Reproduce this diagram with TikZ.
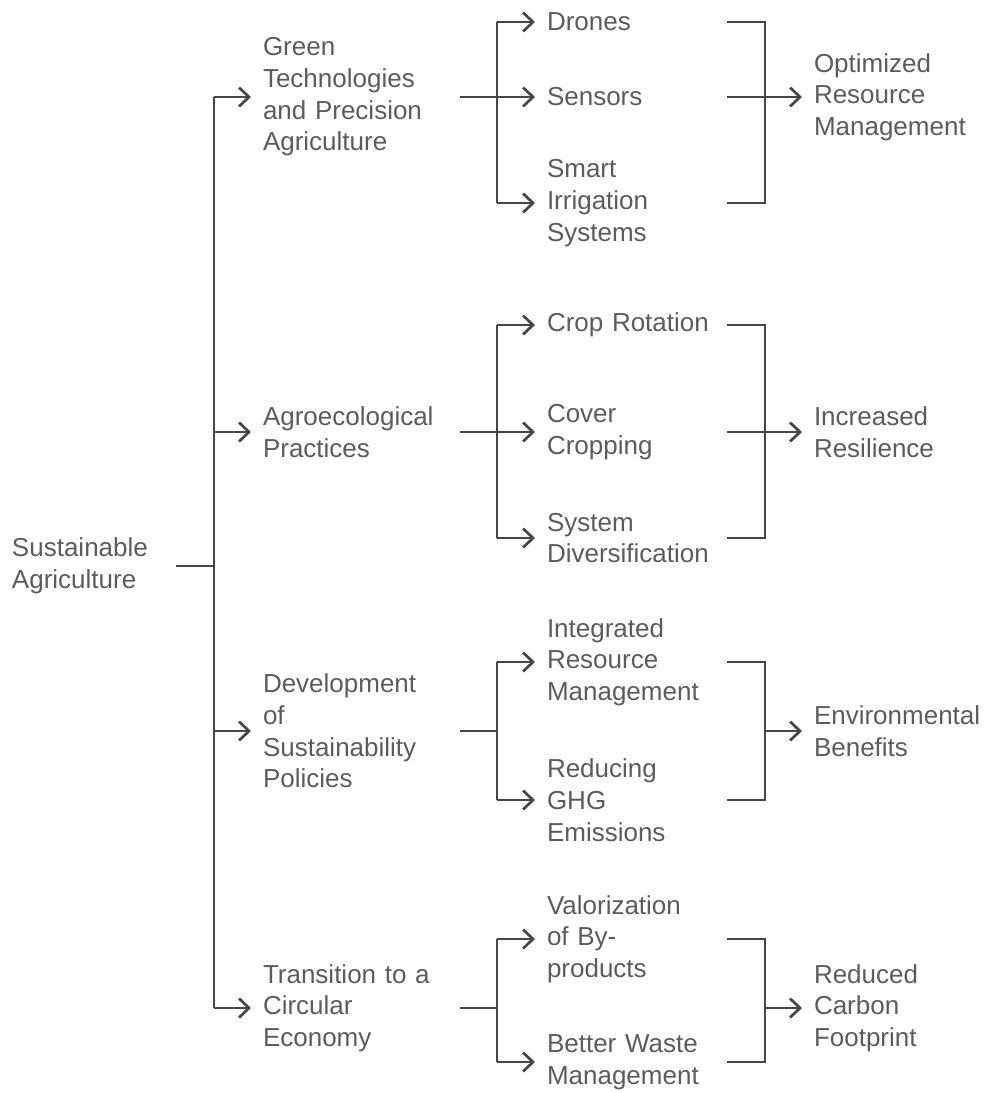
\documentclass[tikz,border=0pt]{standalone}
\usepackage{fontspec}
\setmainfont{Liberation Sans}
\usetikzlibrary{arrows.meta}
\definecolor{TreeInk}{gray}{0.28}
\definecolor{TreeText}{gray}{0.36}
\tikzset{
    tree/diagram/.style={
        x=1pt, y=-1pt,
        color=TreeInk,
        text=TreeText,
        line width=2.7pt,
        line join=miter,
        font=\fontsize{26pt}{31.7pt}\selectfont
    },
    tree/link/.style={draw=TreeInk, line width=2.7pt},
    tree/arrow/.style={
        draw=TreeInk, line width=2.7pt,
        -{Straight Barb[length=10pt, width=19pt]}
    },
    tree/topic/.style={
        anchor=west, align=left, inner xsep=0pt, inner ysep=0pt,
        outer xsep=12pt, outer ysep=0pt
    },
    tree/root/.style={tree/topic, text width=152pt},
    tree/area/.style={tree/topic, text width=185pt},
    tree/item/.style={tree/topic, text width=168pt},
    tree/result/.style={tree/topic, text width=170pt}
}

\begin{document}
\begin{tikzpicture}[tree/diagram]
    \useasboundingbox (0,0) rectangle (985,1093);
    % junction columns
    \coordinate (trunk) at (214,566);
    \coordinate (split) at (497,0);
    \coordinate (merge) at (765,0);
    % topics
    \node[tree/root] (root) at (0,566) {Sustainable\\Agriculture};
    \node[tree/area] (green) at (251,97)
        {Green\\Technologies\\and Precision\\Agriculture};
    \node[tree/area] (agro) at (251,432) {Agroecological\\Practices};
    \node[tree/area] (policy) at (251,731)
        {Development\\of\\Sustainability\\Policies};
    \node[tree/area] (circular) at (251,1008)
        {Transition to a\\Circular\\Economy};
    % measures
    \node[tree/item] (drones) at (535,22) {Drones};
    \node[tree/item] (sensors) at (535,97) {Sensors};
    \node[tree/item] (irrigation) at (535,203) {Smart\\Irrigation\\Systems};
    \node[tree/item] (rotation) at (535,325) {Crop Rotation};
    \node[tree/item] (cover) at (535,432) {Cover\\Cropping};
    \node[tree/item] (diversity) at (535,538) {System\\Diversification};
    \node[tree/item] (integrated) at (535,662)
        {Integrated\\Resource\\Management};
    \node[tree/item] (ghg) at (535,800) {Reducing\\GHG\\Emissions};
    \node[tree/item] (valor) at (535,939) {Valorization\\of By-\\products};
    \node[tree/item] (waste) at (535,1062) {Better Waste\\Management};
    % outcomes
    \node[tree/result] (optimized) at (802,97)
        {Optimized\\Resource\\Management};
    \node[tree/result] (resilience) at (802,432) {Increased\\Resilience};
    \node[tree/result] (benefits) at (802,731) {Environmental\\Benefits};
    \node[tree/result] (footprint) at (802,1008) {Reduced\\Carbon\\Footprint};
    % trunk
    \draw[tree/link] (root.east) -- (trunk);
    \draw[tree/link] (trunk |- green.west) -- (trunk |- circular.west);
    \draw[tree/arrow] (trunk |- green.west) -- (green.west);
    \draw[tree/arrow] (trunk |- agro.west) -- (agro.west);
    \draw[tree/arrow] (trunk |- policy.west) -- (policy.west);
    \draw[tree/arrow] (trunk |- circular.west) -- (circular.west);
    % green technologies
    \draw[tree/link] (green.east) -- (split |- green.east);
    \draw[tree/link] (split |- drones.west) -- (split |- irrigation.west);
    \draw[tree/arrow] (split |- drones.west) -- (drones.west);
    \draw[tree/arrow] (split |- sensors.west) -- (sensors.west);
    \draw[tree/arrow] (split |- irrigation.west) -- (irrigation.west);
    \draw[tree/link] (drones.east) -| (merge |- irrigation.east)
        -- (irrigation.east);
    \draw[tree/link] (sensors.east) -- (merge |- sensors.east);
    \draw[tree/arrow] (merge |- optimized.west) -- (optimized.west);
    % agroecology
    \draw[tree/link] (agro.east) -- (split |- agro.east);
    \draw[tree/link] (split |- rotation.west) -- (split |- diversity.west);
    \draw[tree/arrow] (split |- rotation.west) -- (rotation.west);
    \draw[tree/arrow] (split |- cover.west) -- (cover.west);
    \draw[tree/arrow] (split |- diversity.west) -- (diversity.west);
    \draw[tree/link] (rotation.east) -| (merge |- diversity.east)
        -- (diversity.east);
    \draw[tree/link] (cover.east) -- (merge |- cover.east);
    \draw[tree/arrow] (merge |- resilience.west) -- (resilience.west);
    % policies
    \draw[tree/link] (policy.east) -- (split |- policy.east);
    \draw[tree/link] (split |- integrated.west) -- (split |- ghg.west);
    \draw[tree/arrow] (split |- integrated.west) -- (integrated.west);
    \draw[tree/arrow] (split |- ghg.west) -- (ghg.west);
    \draw[tree/link] (integrated.east) -| (merge |- ghg.east) -- (ghg.east);
    \draw[tree/arrow] (merge |- benefits.west) -- (benefits.west);
    % circular economy
    \draw[tree/link] (circular.east) -- (split |- circular.east);
    \draw[tree/link] (split |- valor.west) -- (split |- waste.west);
    \draw[tree/arrow] (split |- valor.west) -- (valor.west);
    \draw[tree/arrow] (split |- waste.west) -- (waste.west);
    \draw[tree/link] (valor.east) -| (merge |- waste.east) -- (waste.east);
    \draw[tree/arrow] (merge |- footprint.west) -- (footprint.west);
\end{tikzpicture}
\end{document}
